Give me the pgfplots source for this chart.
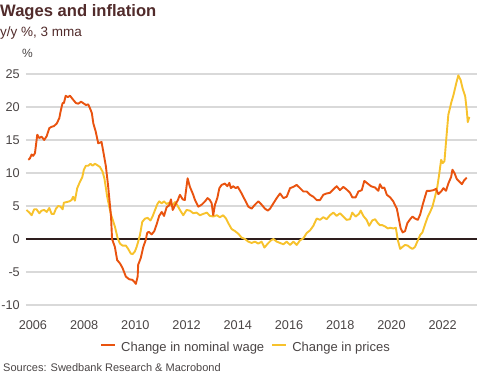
\documentclass[border=0pt]{standalone}
\usepackage{pgfplots}
\pgfplotsset{compat=1.18}
\usepackage{fontspec}
\setmainfont{Liberation Sans}
\definecolor{wage}{HTML}{E9530F}
\definecolor{price}{HTML}{F7C22C}
\definecolor{brownt}{HTML}{512B2B}
\definecolor{txt}{HTML}{4A4545}
\definecolor{gridc}{HTML}{D9D9D9}
\definecolor{zeroc}{HTML}{2E1E1E}
\begin{document}
\begin{tikzpicture}[x=1pt,y=1pt]
\path[use as bounding box] (0,0) rectangle (491,377);
\begin{axis}[
  at={(26pt,72pt)}, anchor=south west,
  scale only axis, width=451pt, height=231pt,
  xmin=2005.73, xmax=2023.34, ymin=-10, ymax=25,
  axis line style={draw=none},
  xtick={2006,2008,...,2022}, ytick={-10,-5,...,25},
  major tick length=0pt,
  ymajorgrids, grid style={color=gridc, line width=1.4pt},
  extra y ticks={0}, extra y tick labels={},
  extra y tick style={grid style={color=zeroc, line width=1.1pt}},
  /pgf/number format/assume math mode=true,
  /pgf/number format/1000 sep={},
  ticklabel style={font=\fontsize{12.7}{14}\selectfont, color=txt},
  yticklabel style={anchor=east, inner sep=0pt, xshift=-6pt},
  xticklabel style={anchor=north, inner sep=0pt, yshift=-15pt},
  legend style={at={(0.4856,-0.186)}, anchor=center, draw=none, fill=none,
    font=\fontsize{13}{15}\selectfont, text=txt, inner sep=0pt,
    nodes={inner sep=0pt},
    /tikz/every odd column/.append style={column sep=5pt},
    /tikz/every even column/.append style={column sep=7pt}},
  legend columns=2, reverse legend,
  legend image code/.code={\draw[#1, line width=2pt] (0pt,3pt) -- (14pt,3pt);},
  every axis plot/.append style={line width=1.9pt, line join=round},
]
\addplot[color=price] coordinates {
(2005.75,4.4)(2005.86,4.0)(2005.95,3.6)(2006.05,4.5)(2006.14,4.5)(2006.25,3.9)(2006.34,4.3)(2006.44,4.4)(2006.54,4.1)(2006.64,4.7)(2006.73,3.8)(2006.82,3.8)(2006.90,4.6)(2006.99,5.0)(2007.08,4.9)(2007.16,4.5)(2007.21,5.5)(2007.32,5.6)(2007.42,5.7)(2007.51,5.9)(2007.57,6.4)(2007.64,5.8)(2007.73,7.7)(2007.84,8.7)(2007.93,9.4)(2007.99,10.5)(2008.07,11.1)(2008.16,11.1)(2008.25,11.4)(2008.33,11.1)(2008.42,11.4)(2008.51,11.2)(2008.62,10.9)(2008.72,10.2)(2008.79,9.2)(2008.85,7.7)(2008.90,6.4)(2008.98,4.9)(2009.05,3.7)(2009.20,1.9)(2009.31,0.1)(2009.40,-0.7)(2009.50,-1.0)(2009.63,-1.0)(2009.72,-1.5)(2009.82,-2.2)(2009.89,-2.3)(2009.98,-1.9)(2010.05,-1.2)(2010.11,-0.4)(2010.18,0.6)(2010.27,2.6)(2010.38,3.1)(2010.48,3.2)(2010.59,2.8)(2010.68,3.5)(2010.77,4.4)(2010.86,5.3)(2010.93,5.7)(2011.03,5.4)(2011.12,5.7)(2011.22,5.3)(2011.32,5.5)(2011.42,5.0)(2011.55,5.6)(2011.64,5.1)(2011.74,4.4)(2011.87,3.6)(2012.00,4.4)(2012.13,4.3)(2012.26,3.9)(2012.39,4.0)(2012.52,3.6)(2012.65,3.8)(2012.79,4.0)(2012.91,3.5)(2013.04,3.4)(2013.18,3.6)(2013.30,3.3)(2013.43,3.6)(2013.54,3.1)(2013.63,2.4)(2013.76,1.5)(2013.89,1.2)(2014.02,0.8)(2014.15,0.2)(2014.28,0.0)(2014.41,-0.4)(2014.54,-0.6)(2014.67,-0.4)(2014.80,-0.7)(2014.93,-0.4)(2015.04,-1.3)(2015.17,-0.7)(2015.30,-0.2)(2015.39,0.0)(2015.52,-0.4)(2015.65,-0.6)(2015.78,-0.8)(2015.91,-0.4)(2016.04,-0.9)(2016.17,-0.4)(2016.30,-0.9)(2016.43,-0.2)(2016.56,0.1)(2016.69,0.9)(2016.82,1.3)(2016.95,2.0)(2017.08,3.1)(2017.21,2.9)(2017.34,3.3)(2017.47,3.0)(2017.60,3.6)(2017.73,4.0)(2017.86,3.5)(2017.99,3.9)(2018.12,3.4)(2018.25,2.9)(2018.38,3.0)(2018.47,4.0)(2018.60,3.4)(2018.73,3.8)(2018.80,4.3)(2018.90,3.5)(2019.03,2.9)(2019.13,2.0)(2019.25,2.8)(2019.36,3.0)(2019.47,2.4)(2019.55,2.1)(2019.64,2.1)(2019.75,1.9)(2019.86,1.6)(2019.95,1.7)(2020.07,1.6)(2020.17,1.7)(2020.25,-0.2)(2020.34,-1.5)(2020.43,-1.2)(2020.53,-0.9)(2020.64,-1.0)(2020.73,-1.3)(2020.82,-1.5)(2020.92,-1.2)(2021.03,-0.2)(2021.12,0.6)(2021.21,1.0)(2021.31,2.2)(2021.42,3.4)(2021.51,4.1)(2021.60,4.9)(2021.70,6.4)(2021.79,7.9)(2021.86,9.7)(2021.94,12.0)(2022.00,11.5)(2022.07,11.8)(2022.13,14.7)(2022.22,18.8)(2022.33,20.6)(2022.42,21.8)(2022.53,23.6)(2022.61,24.8)(2022.70,24.1)(2022.78,22.8)(2022.88,21.6)(2022.94,19.5)(2022.98,17.7)(2023.04,18.5)
};
\addlegendentry{Change in prices}
\addplot[color=wage] coordinates {
(2005.82,12.0)(2005.88,12.2)(2005.95,12.8)(2006.01,12.6)(2006.08,13.0)(2006.17,15.8)(2006.25,15.3)(2006.34,15.5)(2006.44,15.0)(2006.54,15.6)(2006.64,16.8)(2006.73,17.0)(2006.82,17.1)(2006.93,17.5)(2007.03,18.3)(2007.09,19.5)(2007.16,20.6)(2007.21,20.6)(2007.28,21.7)(2007.36,21.5)(2007.45,21.7)(2007.55,21.2)(2007.68,20.6)(2007.77,20.5)(2007.88,20.8)(2007.96,20.6)(2008.07,20.3)(2008.16,20.4)(2008.25,19.6)(2008.30,19.1)(2008.36,17.5)(2008.45,16.3)(2008.55,14.5)(2008.68,14.7)(2008.75,13.2)(2008.85,11.0)(2008.94,7.9)(2009.05,3.4)(2009.09,0.0)(2009.20,-1.2)(2009.29,-3.2)(2009.40,-3.7)(2009.50,-4.4)(2009.63,-5.7)(2009.76,-6.1)(2009.89,-6.2)(2009.96,-6.5)(2010.02,-6.8)(2010.09,-5.7)(2010.11,-3.9)(2010.21,-2.9)(2010.31,-1.2)(2010.41,-0.1)(2010.46,0.9)(2010.52,1.1)(2010.64,0.7)(2010.74,1.2)(2010.83,2.2)(2010.93,3.5)(2011.03,4.1)(2011.12,3.5)(2011.22,4.8)(2011.32,5.1)(2011.39,6.0)(2011.46,4.4)(2011.56,5.2)(2011.66,5.9)(2011.74,6.7)(2011.85,6.0)(2011.93,5.9)(2012.04,9.2)(2012.13,7.9)(2012.24,6.9)(2012.33,5.9)(2012.46,4.9)(2012.59,5.2)(2012.72,5.7)(2012.82,6.2)(2012.91,5.9)(2012.98,5.4)(2013.04,3.6)(2013.11,5.2)(2013.20,6.2)(2013.28,7.7)(2013.37,8.2)(2013.50,8.4)(2013.59,8.0)(2013.67,8.5)(2013.73,7.7)(2013.82,8.0)(2013.92,7.7)(2014.00,7.9)(2014.09,7.3)(2014.15,6.9)(2014.28,5.9)(2014.41,4.9)(2014.54,4.6)(2014.67,5.2)(2014.80,5.7)(2014.93,5.2)(2015.06,4.6)(2015.17,4.3)(2015.26,4.6)(2015.39,5.4)(2015.52,6.2)(2015.65,6.9)(2015.78,6.2)(2015.91,6.4)(2016.04,7.7)(2016.17,7.9)(2016.30,8.2)(2016.43,7.7)(2016.56,7.2)(2016.69,7.2)(2016.82,6.7)(2016.95,6.4)(2017.08,5.9)(2017.21,5.9)(2017.34,6.7)(2017.47,6.9)(2017.60,7.0)(2017.73,7.5)(2017.86,8.0)(2017.99,7.4)(2018.12,7.9)(2018.25,7.5)(2018.38,7.0)(2018.47,6.3)(2018.60,6.3)(2018.71,7.2)(2018.84,7.4)(2018.94,8.8)(2019.07,8.4)(2019.20,8.0)(2019.36,7.8)(2019.49,7.3)(2019.55,8.3)(2019.64,7.7)(2019.72,7.8)(2019.82,6.7)(2019.95,6.3)(2020.07,5.7)(2020.21,4.6)(2020.27,3.4)(2020.36,1.6)(2020.44,1.0)(2020.53,1.2)(2020.62,2.4)(2020.73,3.0)(2020.82,3.4)(2020.92,3.1)(2021.03,2.9)(2021.12,3.7)(2021.22,5.2)(2021.31,6.4)(2021.38,7.3)(2021.51,7.3)(2021.64,7.4)(2021.74,7.6)(2021.83,6.8)(2021.94,7.2)(2022.03,7.7)(2022.13,7.3)(2022.22,8.4)(2022.33,9.4)(2022.38,10.5)(2022.46,10.0)(2022.55,9.1)(2022.65,8.7)(2022.75,8.3)(2022.84,8.9)(2022.94,9.3)
};
\addlegendentry{Change in nominal wage}
\end{axis}
\node[anchor=base west, inner sep=0pt, font=\bfseries\fontsize{16.6}{18}\selectfont, text=brownt] at (0,360) {Wages and inflation};
\node[anchor=base west, inner sep=0pt, font=\fontsize{13.5}{15}\selectfont, text=brownt] at (0,340) {y/y \%, 3 mma};
\node[anchor=base west, inner sep=0pt, font=\fontsize{12}{14}\selectfont, text=txt] at (22,319) {\%};
\node[anchor=base west, inner sep=0pt, font=\fontsize{11}{13}\selectfont, text=txt] at (3,5) {Sources: Swedbank Research \& Macrobond};
\end{tikzpicture}
\end{document}
